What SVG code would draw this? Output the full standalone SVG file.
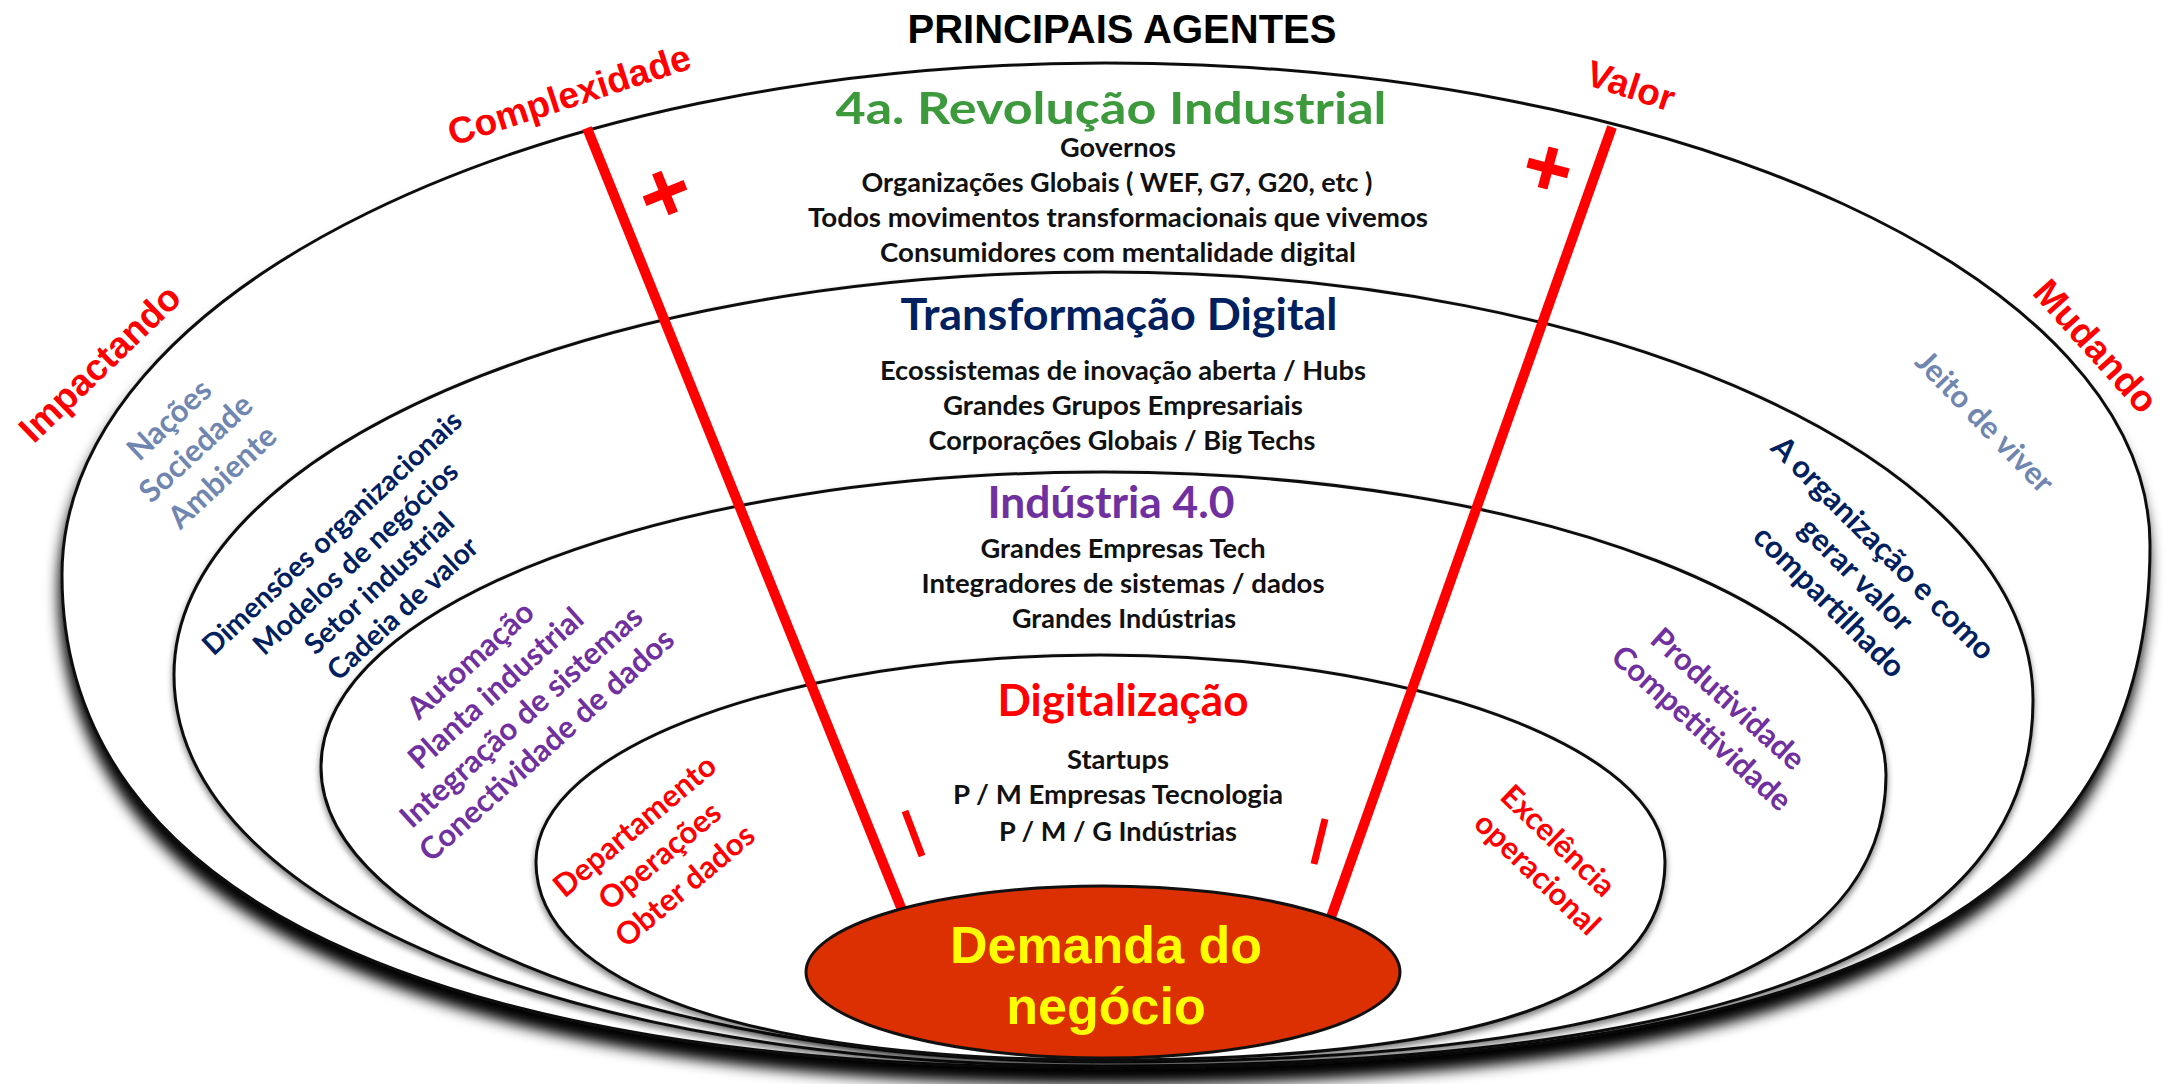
<svg xmlns="http://www.w3.org/2000/svg" width="2166" height="1084" viewBox="0 0 2166 1084">
<defs>
<style>
.ring{fill:#fff;stroke:#111;stroke-width:3}
.c{font-family:Lato,"Open Sans",sans-serif;font-weight:700}
.a{font-family:"Liberation Sans",Arial,sans-serif;font-weight:700}
.m{text-anchor:middle}
.body{font-size:27px;fill:#111}
.sec{font-size:44.5px}
.side{font-size:31px}
.big{font-size:37px;fill:#f00}
.red{fill:#f00}
.navy{fill:#002060}
.purple{fill:#7030a0}
.slate{fill:#6f86b0}
.green{fill:#3c9a3c}
.rl{stroke:#f00;stroke-width:10;fill:none}
.mk{stroke:#f00;stroke-width:7;fill:none}
.pl{stroke:#f00;stroke-width:10;fill:none}
</style>
<filter id="shOuter" x="-5%" y="-10%" width="110%" height="130%">
<feGaussianBlur in="SourceAlpha" stdDeviation="7"/>
<feOffset dx="-2" dy="15"/>
<feComponentTransfer><feFuncA type="linear" slope="1"/></feComponentTransfer>
<feMerge><feMergeNode/><feMergeNode in="SourceGraphic"/></feMerge>
</filter>
<filter id="shInner" x="-5%" y="-10%" width="110%" height="125%">
<feGaussianBlur in="SourceAlpha" stdDeviation="3"/>
<feOffset dy="4"/>
<feComponentTransfer><feFuncA type="linear" slope="0.5"/></feComponentTransfer>
<feMerge><feMergeNode/><feMergeNode in="SourceGraphic"/></feMerge>
</filter>
</defs>
<rect width="2166" height="1084" fill="#fff"/>

<g id="title">
<text class="a m" x="1122" y="43" font-size="40" fill="#000">PRINCIPAIS AGENTES</text>
</g>

<g id="ring-revolucao">
<path class="ring" filter="url(#shOuter)" d="M62,575 C62,292.4 529.3,63 1105,63 C1681.8,63 2150,279 2150,545 C2150,911 1836.5,1068 1105,1068 C427,1068 62,895.5 62,575 Z"/>
<text class="c m sec green" x="1111" y="124" font-size="50" textLength="551" lengthAdjust="spacingAndGlyphs">4a. Revolução Industrial</text>
<text class="c m body" x="1118" y="157" textLength="116" lengthAdjust="spacingAndGlyphs">Governos</text>
<text class="c m body" x="1117" y="192" textLength="511" lengthAdjust="spacingAndGlyphs">Organizações Globais ( WEF, G7, G20, etc )</text>
<text class="c m body" x="1118" y="227" textLength="620" lengthAdjust="spacingAndGlyphs">Todos movimentos transformacionais que vivemos</text>
<text class="c m body" x="1118" y="262" textLength="476" lengthAdjust="spacingAndGlyphs">Consumidores com mentalidade digital</text>
<g transform="translate(195.5,448) rotate(-43)" class="c m side slate">
<text x="0" y="-28">Nações</text>
<text x="0" y="11">Sociedade</text>
<text x="0" y="50">Ambiente</text>
</g>
<g transform="translate(1985,421.5) rotate(46)" class="c m side slate">
<text x="0" y="11">Jeito de viver</text>
</g>
</g>

<g id="ring-transformacao">
<path class="ring" filter="url(#shInner)" d="M174,675 C174,452.5 590.2,272 1103,272 C1616,272 2033,463.7 2033,700 C2033,949 1735.4,1066 1103,1066 C564.2,1066 174,901.8 174,675 Z"/>
<text class="c m sec navy" x="1119" y="330" textLength="437" lengthAdjust="spacingAndGlyphs">Transformação Digital</text>
<text class="c m body" x="1123" y="380" textLength="486" lengthAdjust="spacingAndGlyphs">Ecossistemas de inovação aberta / Hubs</text>
<text class="c m body" x="1123" y="415" textLength="360" lengthAdjust="spacingAndGlyphs">Grandes Grupos Empresariais</text>
<text class="c m body" x="1122" y="450" textLength="387" lengthAdjust="spacingAndGlyphs">Corporações Globais / Big Techs</text>
<g transform="translate(367.25,570.5) rotate(-43)" class="c m navy" font-size="28.5">
<text x="0" y="-41.75">Dimensões organizacionais</text>
<text x="0" y="-7.25">Modelos de negócios</text>
<text x="0" y="27.25">Setor industrial</text>
<text x="0" y="61.75">Cadeia de valor</text>
</g>
<g transform="translate(1856.5,574.5) rotate(45)" class="c m side navy">
<text x="0" y="-27">A organização e como</text>
<text x="0" y="11">gerar valor</text>
<text x="0" y="49">compartilhado</text>
</g>
</g>

<g id="ring-industria">
<path class="ring" filter="url(#shInner)" d="M321,767 C321,604.2 671.3,472 1103,472 C1535.2,472 1886,607.7 1886,775 C1886,970.2 1635.4,1062 1103,1062 C671.3,1062 321,929.8 321,767 Z"/>
<text class="c m sec purple" x="1111" y="518" textLength="247" lengthAdjust="spacingAndGlyphs">Indústria 4.0</text>
<text class="c m body" x="1123" y="558" textLength="285" lengthAdjust="spacingAndGlyphs">Grandes Empresas Tech</text>
<text class="c m body" x="1123" y="593" textLength="403" lengthAdjust="spacingAndGlyphs">Integradores de sistemas / dados</text>
<text class="c m body" x="1124" y="628" textLength="224" lengthAdjust="spacingAndGlyphs">Grandes Indústrias</text>
<g transform="translate(508.25,702.25) rotate(-42)" class="c m side purple">
<text x="0" y="-46">Automação</text>
<text x="0" y="-8">Planta industrial</text>
<text x="0" y="30">Integração de sistemas</text>
<text x="0" y="68">Conectividade de dados</text>
</g>
<g transform="translate(1715,713.25) rotate(42)" class="c m side purple">
<text x="0" y="-8.7">Produtividade</text>
<text x="0" y="30.7">Competitividade</text>
</g>
</g>

<g id="ring-digitalizacao">
<path class="ring" filter="url(#shInner)" d="M536,862 C536,747.7 788.7,655 1100,655 C1411.9,655 1665,747.7 1665,862 C1665,996.6 1484.2,1060 1100,1060 C750.3,1060 536,984.8 536,862 Z"/>
<text class="c m sec red" x="1123" y="716" textLength="251" lengthAdjust="spacingAndGlyphs">Digitalização</text>
<text class="c m body" x="1118" y="769" textLength="102" lengthAdjust="spacingAndGlyphs">Startups</text>
<text class="c m body" x="1118" y="804" textLength="330" lengthAdjust="spacingAndGlyphs">P / M Empresas Tecnologia</text>
<text class="c m body" x="1118" y="841" textLength="238" lengthAdjust="spacingAndGlyphs">P / M / G Indústrias</text>
<g transform="translate(659.5,855.5) rotate(-40)" class="c m side red">
<text x="0" y="-28">Departamento</text>
<text x="0" y="11">Operações</text>
<text x="0" y="50">Obter dados</text>
</g>
<g transform="translate(1548,857) rotate(44)" class="c m side red">
<text x="-4" y="-8">Excelência</text>
<text x="4" y="30">operacional</text>
</g>
</g>

<g id="side-labels">
<text class="a m big" transform="translate(99.5,363) rotate(-44)" x="0" y="13">Impactando</text>
<text class="a m big" transform="translate(573,107) rotate(-18)" x="0" y="0">Complexidade</text>
<text class="a m big" transform="translate(1627,98) rotate(18)" x="0" y="0">Valor</text>
<text class="a m big" transform="translate(2096,346) rotate(48)" x="0" y="13">Mudando</text>
</g>

<g id="connectors">
<line class="rl" x1="587" y1="128" x2="902" y2="910"/>
<line class="rl" x1="1612" y1="127" x2="1330" y2="920"/>
<line class="mk" x1="905" y1="811" x2="922" y2="856"/>
<line class="mk" x1="1325" y1="819" x2="1314" y2="864"/>
<g transform="translate(665,193) rotate(-22)">
<line class="pl" x1="0" y1="-22" x2="0" y2="22"/>
<line class="pl" x1="-22" y1="0" x2="22" y2="0"/>
</g>
<g transform="translate(1548,168) rotate(15)">
<line class="pl" x1="0" y1="-21" x2="0" y2="21"/>
<line class="pl" x1="-21" y1="0" x2="21" y2="0"/>
</g>
</g>

<g id="demanda">
<ellipse cx="1103" cy="972" rx="297" ry="86" fill="#dc2f02" stroke="#111" stroke-width="3"/>
<text class="a m" x="1106" y="963" font-size="52" fill="#ffff00">Demanda do</text>
<text class="a m" x="1106" y="1024" font-size="52" fill="#ffff00">negócio</text>
</g>
</svg>
